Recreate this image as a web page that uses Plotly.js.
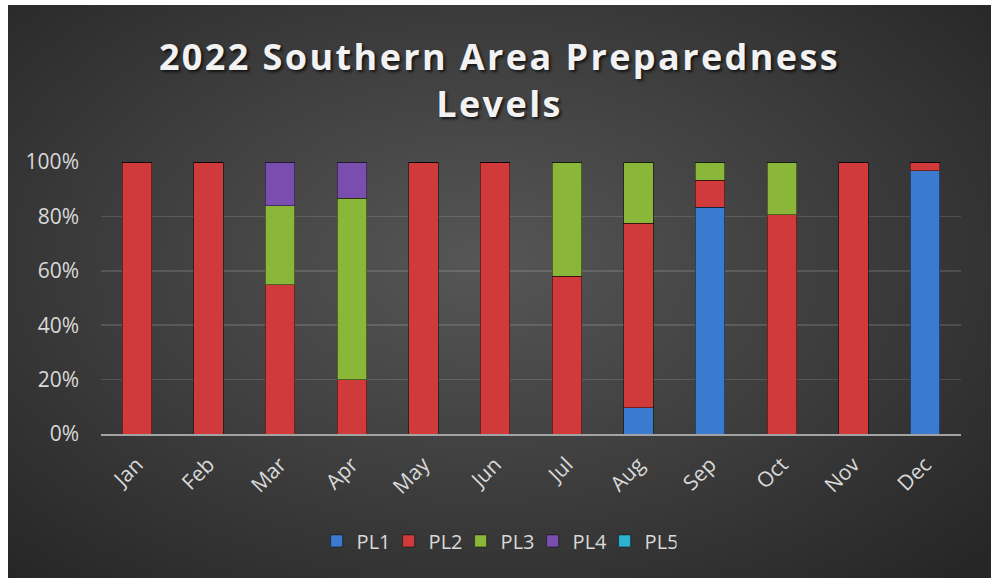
<!DOCTYPE html>
<html>
<head>
<meta charset="utf-8">
<script src="https://cdn.plot.ly/plotly-3.0.1.min.js"></script>
<style>
  html, body { margin: 0; padding: 0; background: #ffffff; width: 993px; height: 578px; overflow: hidden; }
  #chart {
    position: absolute; left: 8px; top: 5px; width: 983px; height: 573px;
    background: radial-gradient(ellipse 70% 75% at 48% 45%, #565656 0%, #3c3c3c 55%, #262626 100%);
  }
  #chart .gtitle { letter-spacing: 2.4px; }
</style>
</head>
<body>
<div id="chart"></div>
<script>
// Days at each preparedness level per month (shown as % of month)
const months = ["Jan","Feb","Mar","Apr","May","Jun","Jul","Aug","Sep","Oct","Nov","Dec"];
const pl1 = [0, 0, 0, 0, 0, 0, 0, 3, 25, 0, 0, 30];
const pl2 = [31, 28, 17, 6, 31, 30, 18, 21, 3, 25, 30, 1];
const pl3 = [0, 0, 9, 20, 0, 0, 13, 7, 2, 6, 0, 0];
const pl4 = [0, 0, 5, 4, 0, 0, 0, 0, 0, 0, 0, 0];
const pl5 = [0, 0, 0, 0, 0, 0, 0, 0, 0, 0, 0, 0];

const seriesNames = ["PL1","PL2","PL3","PL4","PL5"];
const seriesData = [pl1, pl2, pl3, pl4, pl5];
const seriesColors = ["#3a7bd0", "#d03a3a", "#8ab63a", "#7a4eae", "#2cb3d1"];

const traces = seriesNames.map((name, i) => ({
  type: "bar",
  name: name,
  x: months,
  y: seriesData[i],
  marker: { color: seriesColors[i], line: { color: "rgba(0,0,0,0.45)", width: 1 } },
  hoverinfo: "skip"
}));

const tickFont = { family: "Open Sans, sans-serif", size: 21, color: "#d9d9d9" };

const layout = {
  width: 983, height: 573,
  paper_bgcolor: "rgba(0,0,0,0)",
  plot_bgcolor: "rgba(0,0,0,0)",
  margin: { l: 93, r: 30, t: 157, b: 144 },
  barmode: "stack",
  barnorm: "percent",
  bargap: 0.59,
  title: {
    text: "2022 Southern Area Preparedness<br>Levels",
    font: { family: "Open Sans, sans-serif", size: 36, weight: 700, color: "#f2f2f2",
            shadow: "2px 2px 3px rgba(0,0,0,0.7)" },
    x: 0.5, xanchor: "center", xref: "container",
    y: 0.886, yanchor: "middle", yref: "container"
  },
  xaxis: {
    type: "category",
    tickangle: -45,
    tickfont: tickFont,
    showline: true, linecolor: "#a3a3a3", linewidth: 2,
    showgrid: false, ticks: "", ticklabelstandoff: 8
  },
  yaxis: {
    range: [0, 100],
    tickvals: [0, 20, 40, 60, 80, 100],
    ticktext: ["0%", "20%", "40%", "60%", "80%", "100%"],
    tickfont: tickFont,
    showgrid: true, gridcolor: "rgba(255,255,255,0.13)", gridwidth: 1.5,
    zeroline: false, showline: false, ticks: "", ticklabelstandoff: 21
  },
  legend: {
    orientation: "h", traceorder: "normal",
    x: 0.46, xanchor: "center", y: -0.393, yanchor: "middle",
    font: { family: "Open Sans, sans-serif", size: 20, color: "#d9d9d9" },
    itemwidth: 30, entrywidth: 27, entrywidthmode: "pixels",
    bgcolor: "rgba(0,0,0,0)"
  },
  showlegend: true
};

Plotly.newPlot("chart", traces, layout, { displayModeBar: false, staticPlot: true });
</script>
</body>
</html>
